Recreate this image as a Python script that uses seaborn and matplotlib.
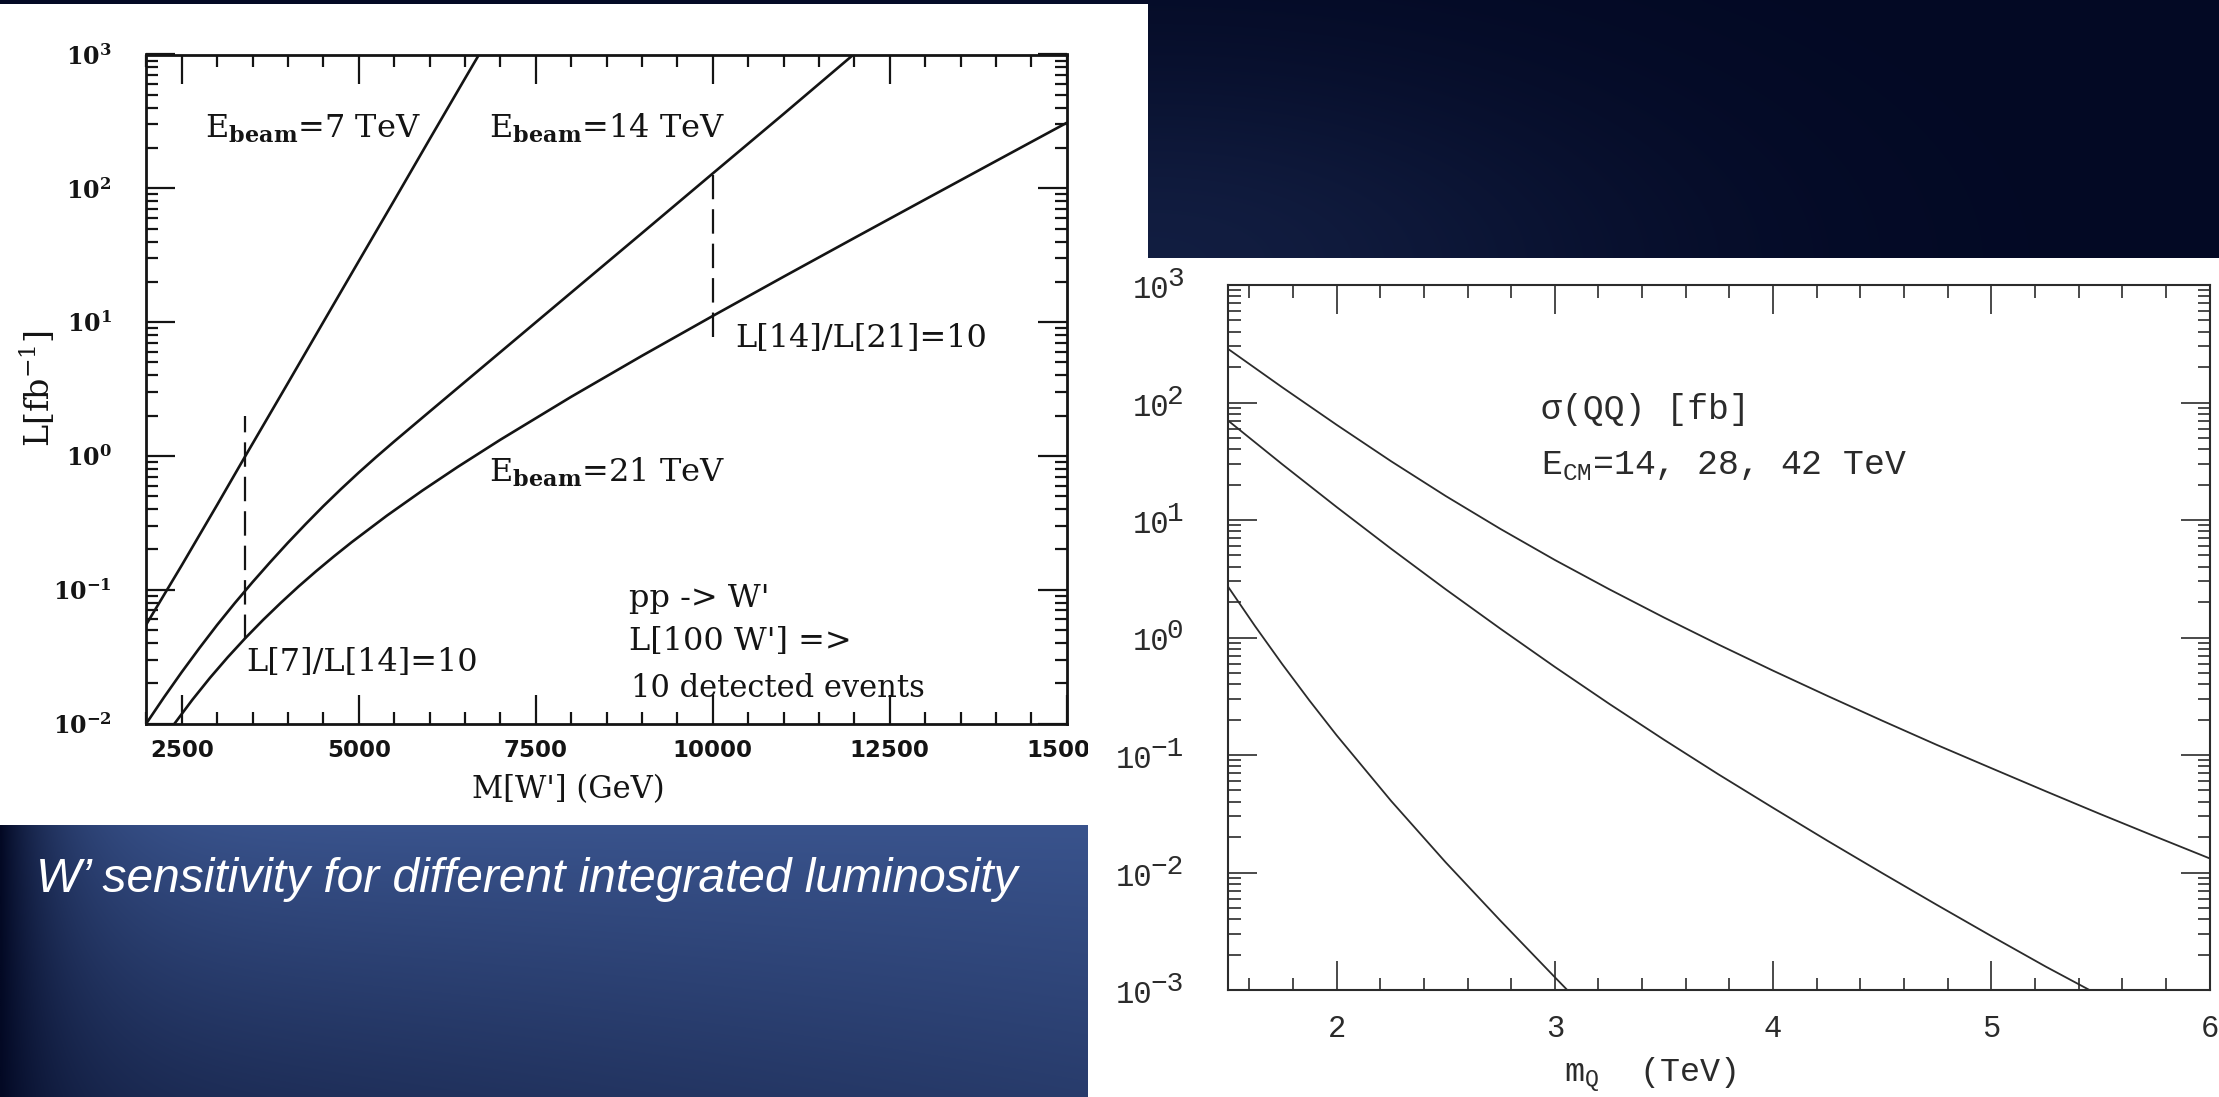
import numpy as np
import matplotlib
matplotlib.use("Agg")
import matplotlib.pyplot as plt
import seaborn as sns
from matplotlib import ticker, font_manager
from matplotlib.patches import Rectangle
from matplotlib.transforms import ScaledTranslation

# ---------------- data: left panel (W' sensitivity) ----------------
mass_7tev = [2000, 2500, 3000, 3400, 4000, 4500, 5000, 5500, 6000, 6500, 6700]
lumi_7tev = [0.055, 0.152, 0.43, 1.0, 3.5, 10.0, 28.5, 81, 232, 660, 1000]

mass_14tev = [2000, 2250, 2500, 2750, 3000, 3250, 3500, 3750, 4000, 4250, 4500, 4750, 5000,
              5250, 5500, 6000, 7000, 8000, 9000, 10000, 11000, 11990]
lumi_14tev = [0.01, 0.0157, 0.0242, 0.0366, 0.0545, 0.0794, 0.1138, 0.1607, 0.2244, 0.309,
              0.421, 0.565, 0.750, 0.984, 1.28, 2.14, 5.96, 16.6, 46.2, 129, 359, 1000]

mass_21tev = [2400, 2650, 2900, 3150, 3400, 3650, 3900, 4150, 4400, 4650, 4900, 5400, 5900,
              6400, 7000, 8000, 9000, 10000, 11000, 12000, 13000, 14000, 15000]
lumi_21tev = [0.01, 0.01503, 0.02196, 0.03127, 0.04355, 0.05948, 0.0798, 0.1056, 0.1377,
              0.1774, 0.2263, 0.3583, 0.551, 0.8283, 1.320, 2.763, 5.595, 11.11, 21.82,
              42.52, 82.5, 159.7, 308.6]

ratio_mass = [3400, 10000]
ratio_low = [0.043, 7.8]
ratio_high = [2.0, 125]

left_xticks = [2500, 5000, 7500, 10000, 12500, 15000]
left_xticklabels = ["2500", "5000", "7500", "10000", "12500", "15000"]
left_yticks = [1e-2, 1e-1, 1e0, 1e1, 1e2, 1e3]
left_yticklabels = [r"$\mathregular{10^{-2}}$", r"$\mathregular{10^{-1}}$", r"$\mathregular{10^{0}}$",
                    r"$\mathregular{10^{1}}$", r"$\mathregular{10^{2}}$", r"$\mathregular{10^{3}}$"]

# ---------------- data: right panel (sigma(QQ)) ----------------
mq_14 = [1.5, 1.625, 1.75, 1.875, 2.0, 2.25, 2.5, 2.75, 3.0, 3.057]
sigma_14 = [2.75, 1.259, 0.596, 0.2917, 0.1472, 0.0406, 0.01219, 0.0039, 0.001285, 0.001]

mq_28 = [1.5, 1.75, 2.0, 2.25, 2.5, 2.75, 3.0, 3.25, 3.5, 3.75, 4.0, 4.25, 4.5, 4.75, 5.0, 5.25, 5.45]
sigma_28 = [70.8, 29.9, 12.9, 5.69, 2.57, 1.19, 0.562, 0.272, 0.135, 0.0684, 0.0355, 0.0186,
            0.00989, 0.00531, 0.00288, 0.00158, 0.001]

mq_42 = [1.5, 1.75, 2.0, 2.25, 2.5, 2.75, 3.0, 3.25, 3.5, 3.75, 4.0, 4.25, 4.5, 4.75, 5.0,
         5.25, 5.5, 5.75, 6.0]
sigma_42 = [288, 135, 64.6, 31.6, 16.0, 8.41, 4.57, 2.57, 1.48, 0.871, 0.522, 0.318, 0.196,
            0.122, 0.0773, 0.0491, 0.0314, 0.0203, 0.0132]

right_xticks = [2, 3, 4, 5, 6]
right_xticklabels = ["2", "3", "4", "5", "6"]
right_yticks = [1e-3, 1e-2, 1e-1, 1e0, 1e1, 1e2, 1e3]
right_ybase = "10"
right_yexponents = ["\u22123", "\u22122", "\u22121", "0", "1", "2", "3"]

caption = "W\u2019 sensitivity for different integrated luminosity"

# ---------------- style ----------------
sns.set_theme(style="ticks")
plt.rcParams["font.family"] = ["DejaVu Serif", "DejaVu Sans"]
plt.rcParams["axes.unicode_minus"] = True

W, H = 2219, 1097
fig = plt.figure(figsize=(W / 100, H / 100), dpi=100)


def frac(x0, y0, x1, y1):
    return [x0 / W, 1 - y1 / H, (x1 - x0) / W, (y1 - y0) / H]


# ---------------- slide background ----------------
yy, xx = np.mgrid[0:H:2, 0:W:2].astype(float)
dark = np.array([3, 9, 36]) / 255
light = np.array([60, 87, 146]) / 255
ty = np.clip((yy - 825) / 272, 0, 1)
tx = np.clip(xx / 1091, 0, 1)
w_box = (0.95 - 0.3 * ty) * (1 - 0.35 * ty * (1 - tx)) * (1 - np.exp(-xx / 60))
w_top = 0.26 * np.exp(-((xx - 1150) / 480) ** 2 - ((yy - 260) / 200) ** 2)
wgt = np.where(yy > 700, w_box, w_top)
img = dark + wgt[..., None] * (light - dark)

bg = fig.add_axes([0, 0, 1, 1], zorder=-10)
bg.imshow(img, extent=[0, W, H, 0], aspect="auto", interpolation="bilinear")
bg.add_patch(Rectangle((0, 4), 1148, 821, facecolor="white", edgecolor="none"))
bg.set_xlim(0, W)
bg.set_ylim(H, 0)
bg.axis("off")

# ---------------- left panel ----------------
ink = "#141414"
axL = fig.add_axes(frac(146.3, 54.5, 1066.7, 723.5), zorder=1)
axL.set_facecolor("white")
axL.set_yscale("log")
for xs, ys in [(mass_7tev, lumi_7tev), (mass_14tev, lumi_14tev), (mass_21tev, lumi_21tev)]:
    sns.lineplot(x=xs, y=ys, ax=axL, color=ink, linewidth=1.9, estimator=None, sort=False)
for mx, lo, hi in zip(ratio_mass, ratio_low, ratio_high):
    sns.lineplot(x=[mx, mx], y=[lo, hi], ax=axL, color=ink, linewidth=1.6, estimator=None, sort=False)
    axL.lines[-1].set_dashes([11, 4.5])

axL.set_xlim(2000, 15000)
axL.set_ylim(1e-2, 1e3)
axL.set_xticks(left_xticks, labels=left_xticklabels, fontsize=16.5, fontweight="bold",
               family="DejaVu Sans", color=ink)
axL.set_yticks(left_yticks, labels=left_yticklabels, fontsize=17, fontweight="bold",
               family="DejaVu Serif", color=ink)
axL.xaxis.set_minor_locator(ticker.MultipleLocator(500))
axL.yaxis.set_minor_locator(ticker.LogLocator(base=10, subs=np.arange(2, 10), numticks=20))
axL.yaxis.set_minor_formatter(ticker.NullFormatter())
axL.tick_params(which="both", direction="in", top=True, right=True, width=1.6, color=ink)
axL.tick_params(which="major", length=21)
axL.tick_params(which="minor", length=8.5)
axL.tick_params(axis="x", which="major", pad=11)
axL.tick_params(axis="y", which="major", pad=25)
for s in axL.spines.values():
    s.set_linewidth(2.0)
    s.set_color(ink)

axL.set_xlabel("M[W'] (GeV)", fontsize=22, color=ink, family="DejaVu Serif")
axL.xaxis.set_label_coords(0.458, -0.075)
axL.set_ylabel(r"L[fb$^{-1}$]", fontsize=24, color=ink, family="DejaVu Serif",
               math_fontfamily="dejavuserif")
axL.yaxis.set_label_coords(-0.097, 0.5)

ann = dict(family="DejaVu Serif", fontsize=23, color=ink, math_fontfamily="dejavuserif")
axL.text(2829, 238, r"E$_{\mathbf{beam}}$=7 TeV", va="baseline", ha="left", **ann)
axL.text(6834, 238, r"E$_{\mathbf{beam}}$=14 TeV", va="baseline", ha="left", **ann)
axL.text(6834, 0.64, r"E$_{\mathbf{beam}}$=21 TeV", va="baseline", ha="left", **ann)
axL.text(10316, 7.57, "L[14]/L[21]=10", va="center", ha="left", **ann)
axL.text(3409, 0.0286, "L[7]/L[14]=10", va="center", ha="left", **ann)
axL.text(8815, 0.086, "pp -> W'", va="center", ha="left", **ann)
axL.text(8815, 0.041, "L[100 W'] =>", va="center", ha="left", **ann)
axL.text(8840, 0.0184, "10 detected events", va="center", ha="left", **dict(ann, fontsize=22))

# ---------------- right panel ----------------
ink2 = "#2b2b2b"
panelR = fig.add_axes(frac(1088, 258, W, H), zorder=2)
panelR.set_facecolor("white")
panelR.set_xticks([])
panelR.set_yticks([])
for s in panelR.spines.values():
    s.set_visible(False)

axR = fig.add_axes(frac(1227.5, 285, 2209.5, 990), zorder=3)
axR.set_facecolor("white")
axR.set_yscale("log")
for xs, ys in [(mq_14, sigma_14), (mq_28, sigma_28), (mq_42, sigma_42)]:
    sns.lineplot(x=xs, y=ys, ax=axR, color=ink2, linewidth=1.3, estimator=None, sort=False)
axR.set_xlim(1.5, 6)
axR.set_ylim(1e-3, 1e3)
mono = ["Liberation Mono", "DejaVu Sans Mono"]
axR.set_xticks(right_xticks, labels=right_xticklabels, fontsize=22, family=mono, color=ink2)
axR.set_yticks(right_yticks)
axR.xaxis.set_minor_locator(ticker.MultipleLocator(0.2))
axR.yaxis.set_minor_locator(ticker.LogLocator(base=10, subs=np.arange(2, 10), numticks=20))
axR.yaxis.set_minor_formatter(ticker.NullFormatter())
axR.tick_params(which="both", direction="in", top=True, right=True, width=1.2, color=ink2)
axR.tick_params(which="major", length=21)
axR.tick_params(which="minor", length=9)
axR.tick_params(axis="x", which="major", pad=17)
axR.tick_params(axis="y", labelleft=False)
for s in axR.spines.values():
    s.set_linewidth(1.5)
    s.set_color(ink2)

# y tick labels: "10" with a near full-size raised exponent, as in the original
base_fs, exp_fs = 22, 20
char_px = 0.6 * exp_fs * 100 / 72
ytrans = axR.get_yaxis_transform()
for yv, ex in zip(right_yticks, right_yexponents):
    t_exp = ytrans + ScaledTranslation(-44 / 100, -1 / 100, fig.dpi_scale_trans)
    axR.text(0, yv, ex, transform=t_exp, ha="right", va="baseline", fontsize=exp_fs,
             family=mono, color=ink2, clip_on=False)
    dx = -44 - len(ex) * char_px + 2
    t_base = ytrans + ScaledTranslation(dx / 100, -13 / 100, fig.dpi_scale_trans)
    axR.text(0, yv, right_ybase, transform=t_base, ha="right", va="baseline", fontsize=base_fs,
             family=mono, color=ink2, clip_on=False)

axR.set_xlabel(r"m$_{\mathregular{Q}}$  (TeV)", fontsize=24, family=mono, color=ink2)
axR.xaxis.set_label_coords(0.43, -0.093)

ann2 = dict(family=mono, fontsize=25, color=ink2)
axR.text(2.935, 73, "\u03c3(QQ) [fb]", va="baseline", ha="left", **ann2)
axR.text(2.935, 24.7, r"E$_{\mathregular{CM}}$=14, 28, 42 TeV", va="baseline", ha="left", **ann2)

# ---------------- caption on the blue box ----------------
names = {f.name for f in font_manager.fontManager.ttflist}
cap_family = "Liberation Sans Narrow" if "Liberation Sans Narrow" in names else "Liberation Sans"
cap = fig.text(36 / W, 1 - 892 / H, caption, color="white", style="italic", family=cap_family,
               fontsize=34, ha="left", va="baseline", zorder=10)
renderer = fig.canvas.get_renderer()
bb = cap.get_window_extent(renderer)
cap.set_fontsize(34 * 983 / bb.width)

fig.savefig("out.png", dpi=100)
